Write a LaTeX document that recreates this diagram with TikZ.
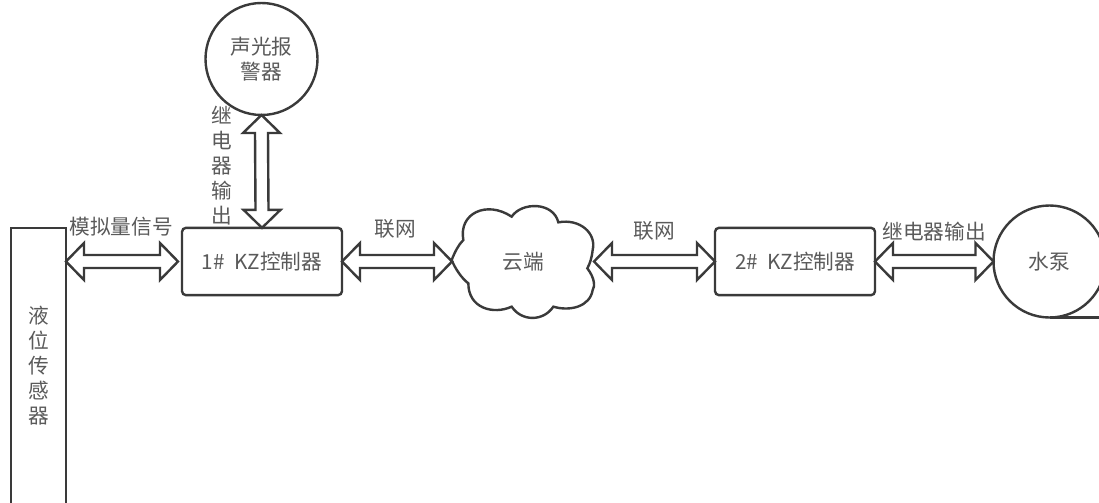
\documentclass[tikz,border=0pt]{standalone}
\usepackage{fontspec}
\setmainfont{Noto Sans CJK SC}
\usetikzlibrary{calc}
\definecolor{edgecol}{HTML}{3A3A3A}
\definecolor{textcol}{HTML}{5A5A5A}
\tikzset{
  x=0.75pt,y=-0.75pt,
  base/.style={draw=edgecol,line width=1.8pt,inner sep=0pt,outer sep=0pt,text=textcol,font=\fontsize{15.5}{18.75}\selectfont,align=center},
  boxnode/.style={base,rectangle,rounded corners=3pt,minimum width=120pt,minimum height=50.5pt},
  sensornode/.style={base,rectangle,minimum width=41.25pt,minimum height=207pt},
  roundnode/.style={base,circle,minimum size=84pt},
  cloudnode/.style={inner sep=0pt,outer sep=0pt,text=textcol,font=\fontsize{15.5}{18.75}\selectfont,minimum width=106.5pt,minimum height=84pt},
  lbl/.style={inner sep=0pt,outer sep=0pt,text=textcol,font=\fontsize{15.5}{18.75}\selectfont,align=center},
  linkarrow/.style={draw=edgecol,line width=1.8pt,line join=miter,fill=white}
}
% horizontal double-headed block arrow from #1 to #2
\newcommand{\hlink}[2]{\draw[linkarrow] (#1) -- ($(#1)+(18,-18.5)$) -- ($(#1)+(18,-6.5)$) -- ($(#2)+(-18,-6.5)$) -- ($(#2)+(-18,-18.5)$) -- (#2) -- ($(#2)+(-18,18.5)$) -- ($(#2)+(-18,6.5)$) -- ($(#1)+(18,6.5)$) -- ($(#1)+(18,18.5)$) -- cycle;}
% vertical double-headed block arrow from #1 down to #2
\newcommand{\vlink}[2]{\draw[linkarrow] (#1) -- ($(#1)+(-18.5,18)$) -- ($(#1)+(-6.5,18)$) -- ($(#2)+(-6.5,-18)$) -- ($(#2)+(-18.5,-18)$) -- (#2) -- ($(#2)+(18.5,-18)$) -- ($(#2)+(6.5,-18)$) -- ($(#1)+(6.5,18)$) -- ($(#1)+(18.5,18)$) -- cycle;}
\begin{document}
\begin{tikzpicture}
\useasboundingbox (0,0) rectangle (1099,503);
\fill[white] (0,0) rectangle (1099,503);
\node[sensornode] (sensor) at (38.5,366) {液\\位\\传\\感\\器};
\node[boxnode] (kz1) at (262,261.5) {1\#\ \ KZ控制器};
\node[boxnode] (kz2) at (795,261.5) {2\#\ \ KZ控制器};
\node[roundnode] (alarm) at (261.5,59) {声光报\\警器};
\node[roundnode] (pump) at (1049.5,261.5) {水泵};
\node[cloudnode] (cloud) at (523,261.5) {云端};
\draw[base] (pump.south) -- (1099,317.5);
\begin{scope}[shift={(430,190)},x=0.25pt,y=-0.25pt]
\draw[base] (65,210) .. controls (75,185) and (85,165) .. (100,150)
  .. controls (85,70) and (170,30) .. (245,80)
  .. controls (275,35) and (370,35) .. (385,97)
  .. controls (450,85) and (500,130) .. (488,180)
  .. controls (485,205) and (480,220) .. (472,235)
  .. controls (495,265) and (495,290) .. (488,300)
  .. controls (480,350) and (420,365) .. (370,350)
  .. controls (340,395) and (275,395) .. (245,350)
  .. controls (190,375) and (115,355) .. (115,280)
  .. controls (95,265) and (75,235) .. (65,210) -- cycle;
\end{scope}
\coordinate (kz1in) at ($(kz1.west)+(-4,0)$);
\coordinate (sensorout) at (sensor.east |- kz1.west);
\hlink{sensorout}{kz1in}
\hlink{kz1.east}{cloud.west}
\hlink{cloud.east}{kz2.west}
\hlink{kz2.east}{pump.west}
\vlink{alarm.south}{kz1.north}
\node[lbl] (l1) at (121,227) {模拟量信号};
\node[lbl] (l2) at (395,229) {联网};
\node[lbl] (l3) at (654,231) {联网};
\node[lbl] (l4) at (934,232) {继电器输出};
\node[lbl] (l5) at (222,165.5) {继\\电\\器\\输\\出};
\end{tikzpicture}
\end{document}
